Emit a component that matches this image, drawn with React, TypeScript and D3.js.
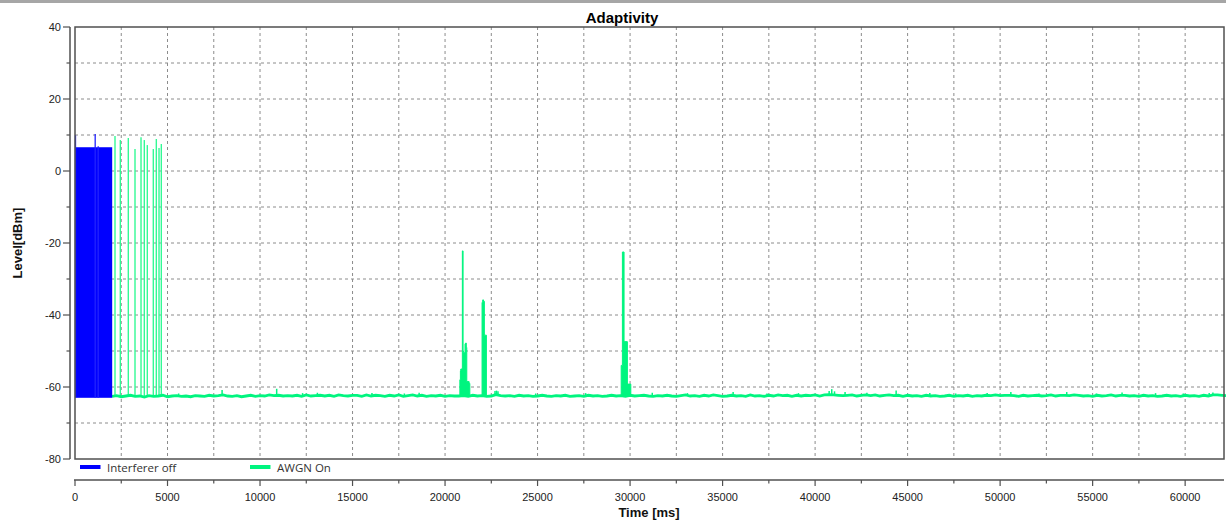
import React from "react";
import * as d3 from "d3";

// ---- data ----
const xMajorTicks = [0, 5000, 10000, 15000, 20000, 25000, 30000, 35000, 40000, 45000, 50000, 55000, 60000];
const yMajorTicks = [40, 20, 0, -20, -40, -60, -80];
const xDomain = [0, 62100];
const yDomain = [-80, 40];

// Interferer off: dense burst block + single spikes
const blueBlockStart = 20;
const blueBlockEnd = 2010;
const blueBlockTop = 6.6;
const blueFloor = -63;
const blueSpikeTimes = [0, 1064, 1227];
const blueSpikeLevels = [9.9, 10.3, 6.9];

// AWGN On: noise floor sampled every 250 ms from 2000 ms
const noiseStart = 2000;
const noiseStep = 250;
const noiseFloor = [
  -62.6, -62.4, -62.7, -62.5, -62.3, -62.6, -62.5, -62.8, -62.4, -62.6, -62.5, -62.3, -62.7, -62.5, -62.4, -62.6, -62.5, -62.7, -62.4, -62.5,
  -62.6, -62.3, -62.5, -62.4, -62.2, -62.5, -62.6, -62.4, -62.7, -62.5, -62.3, -62.6, -62.4, -62.5, -62.2, -62.4, -62.3, -62.5, -62.4, -62.5,
  -62.3, -62.6, -62.2, -62.5, -62.4, -62.3, -62.5, -62.3, -62.6, -62.2, -62.4, -62.5, -62.3, -62.3, -62.6, -62.2, -62.5, -62.3, -62.4, -62.6,
  -62.3, -62.5, -62.2, -62.6, -62.4, -62.2, -62.5, -62.3, -62.6, -62.4, -62.5, -62.3, -62.6, -62.4, -62.5, -62.5, -62.4, -62.6, -62.3, -62.5,
  -62.4, -62.6, -62.5, -62.1, -62.4, -62.5, -62.4, -62.6, -62.3, -62.5, -62.4, -62.6, -62.5, -62.3, -62.5, -62.6, -62.4, -62.5, -62.3, -62.6,
  -62.5, -62.4, -62.6, -62.3, -62.5, -62.4, -62.6, -62.5, -62.3, -62.5, -62.4, -62.6, -62.3, -62.5, -62.4, -62.3, -62.5, -62.6, -62.4, -62.5,
  -62.3, -62.5, -62.6, -62.4, -62.2, -62.5, -62.4, -62.6, -62.3, -62.5, -62.2, -62.4, -62.6, -62.5, -62.3, -62.5, -62.4, -62.6, -62.2, -62.5,
  -62.4, -62.6, -62.3, -62.5, -62.2, -62.4, -62.3, -62.6, -62.3, -62.5, -62.3, -62.4, -62.2, -62.5, -62.2, -62.1, -62.2, -62.3, -62.4, -62.3,
  -62.2, -62.5, -62.3, -62.2, -62.4, -62.2, -62.5, -62.3, -62.2, -62.4, -62.3, -62.6, -62.3, -62.5, -62.4, -62.6, -62.3, -62.5, -62.4, -62.6,
  -62.5, -62.3, -62.6, -62.4, -62.5, -62.3, -62.6, -62.4, -62.5, -62.3, -62.4, -62.2, -62.4, -62.3, -62.3, -62.4, -62.6, -62.3, -62.5, -62.4,
  -62.3, -62.5, -62.4, -62.2, -62.5, -62.3, -62.3, -62.4, -62.2, -62.3, -62.5, -62.4, -62.6, -62.3, -62.5, -62.4, -62.2, -62.5, -62.3, -62.3,
  -62.5, -62.4, -62.6, -62.3, -62.5, -62.4, -62.6, -62.5, -62.3, -62.5, -62.4, -62.6, -62.3, -62.5, -62.4, -62.6, -62.3, -62.5, -62.2, -62.2,
  -62.3, -62.4,
];
// short noise spikes on top of the floor
const noiseSpikeTimes = [
  5600, 7950, 10900, 12300, 13100, 16050, 17800, 18600, 22700, 22780, 22860, 24900, 27600, 31200, 33100, 35570, 37400, 39100,
  40760, 40900, 41050, 41620, 42800, 44380, 46200, 47600, 49300, 50580, 52100, 53600, 55200, 56590, 58400, 59900, 61300, 61500,
];
const noiseSpikeLevels = [
  -61.8, -60.8, -60.5, -61.7, -61.6, -61.7, -61.8, -61.6, -61.1, -61.0, -61.2, -61.8, -61.7, -61.6, -61.7, -61.4, -61.8, -61.7,
  -61.1, -60.6, -61.2, -61.4, -61.6, -61.0, -61.7, -61.8, -61.7, -61.4, -61.8, -61.4, -61.8, -61.5, -61.7, -61.8, -61.7, -61.5,
];
const greenSpikeTimes = [2162, 2449, 2881, 3243, 3568, 3746, 3908, 4232, 4395, 4541, 4665];
const greenSpikeLevels = [9.7, 8.6, 9.2, 6.1, 9.4, 8.6, 7.2, 6.1, 8.9, 6.4, 7.5];
const burst1Times = [20800, 20830, 20850, 20935, 20975, 20995, 21080, 21110, 21150, 21175, 21300, 21340];
const burst1Levels = [-58, -55.5, -55, -22.2, -50, -50.5, -48, -47.8, -49, -58.5, -59, -62.5];
const burst2Times = [22000, 22035, 22080, 22125, 22235];
const burst2Levels = [-36.5, -35.8, -36.2, -45.6, -62.5];
const burst3Times = [29520, 29585, 29675, 29855, 30040];
const burst3Levels = [-54, -22.5, -47.4, -59.2, -62.5];
const burstBase = -62.5;

const seriesNames = ["Interferer off", "AWGN On"];
const seriesColors = ["#0000ff", "#00f57f"];

const W = 1226;
const H = 528;
const plotL = 75, plotR = 1224, plotT = 27, plotB = 459;

export default function App() {
  const x = d3.scaleLinear().domain(xDomain).range([plotL, plotR]);
  const y = d3.scaleLinear().domain(yDomain).range([plotB, plotT]);

  const xMinor = xMajorTicks.map((t) => t + 2500).filter((t) => t < xDomain[1]);
  const vGrid = d3.range(2500, xDomain[1], 2500);
  const hGrid = d3.range(-70, 40, 10);
  const yMinor = d3.range(-70, 40, 20);

  const noisePts: [number, number][] = noiseFloor.map((v, i) => [noiseStart + i * noiseStep, v]);
  noisePts.push([xDomain[1], noiseFloor[noiseFloor.length - 1]]);
  const noiseLine = d3
    .line<[number, number]>()
    .x((d) => x(d[0]))
    .y((d) => y(d[1]))(noisePts);

  const burstArea = d3
    .area<[number, number]>()
    .x((d) => x(d[0]))
    .y0(y(burstBase))
    .y1((d) => y(d[1]))
    .curve(d3.curveStepAfter);
  const bursts = [
    [burst1Times, burst1Levels],
    [burst2Times, burst2Levels],
    [burst3Times, burst3Levels],
  ].map(([ts, vs]) => burstArea(ts.map((t, i) => [t, vs[i]] as [number, number])));

  const font = "'Liberation Sans', Arial, sans-serif";
  const axisColor = "#505050";
  const gridColor = "#8c8c8c";

  return (
    <svg width={W} height={H} style={{ position: "absolute", left: 0, top: 0, background: "#fff" }}>
      <style>{`body{margin:0}`}</style>
      <rect x={0} y={0} width={W} height={3} fill="#a6a6a6" />
      <text x={622} y={23} textAnchor="middle" fontFamily={font} fontWeight="bold" fontSize={15} fill="#000">
        Adaptivity
      </text>

      {/* grid */}
      {vGrid.map((t) => (
        <line key={"vg" + t} x1={x(t)} x2={x(t)} y1={plotT} y2={plotB} stroke={gridColor} strokeDasharray="3,3" strokeWidth={1} />
      ))}
      {hGrid.map((v) => (
        <line key={"hg" + v} x1={plotL} x2={plotR} y1={y(v)} y2={y(v)} stroke={gridColor} strokeDasharray="3,3" strokeWidth={1} />
      ))}

      {/* AWGN On */}
      {greenSpikeTimes.map((t, i) => (
        <line key={"gs" + i} x1={x(t)} x2={x(t)} y1={y(burstBase)} y2={y(greenSpikeLevels[i])} stroke="#33f995" strokeWidth={1.4} />
      ))}
      {bursts.map((d, i) => (
        <path key={"b" + i} d={d || ""} fill={seriesColors[1]} stroke={seriesColors[1]} strokeWidth={1} />
      ))}
      {noiseSpikeTimes.map((t, i) => (
        <line key={"ns" + i} x1={x(t)} x2={x(t)} y1={y(burstBase)} y2={y(noiseSpikeLevels[i])} stroke={seriesColors[1]} strokeWidth={1.5} />
      ))}
      <path d={noiseLine || ""} fill="none" stroke={seriesColors[1]} strokeWidth={2.8} />

      {/* Interferer off */}
      <rect
        x={x(blueBlockStart)}
        y={y(blueBlockTop)}
        width={x(blueBlockEnd) - x(blueBlockStart)}
        height={y(blueFloor) - y(blueBlockTop)}
        fill={seriesColors[0]}
      />
      {blueSpikeTimes.map((t, i) => (
        <line key={"bs" + i} x1={x(t) + 0.5} x2={x(t) + 0.5} y1={y(blueFloor)} y2={y(blueSpikeLevels[i])} stroke="#2222ff" strokeWidth={1.3} />
      ))}

      {/* frame */}
      <rect x={plotL} y={plotT} width={plotR - plotL} height={plotB - plotT} fill="none" stroke={axisColor} strokeWidth={1.5} />

      {/* y axis */}
      <line x1={70} x2={70} y1={plotT} y2={plotB} stroke={axisColor} strokeWidth={1.5} />
      {yMajorTicks.map((v) => (
        <g key={"yt" + v}>
          <line x1={63} x2={70} y1={y(v)} y2={y(v)} stroke={axisColor} strokeWidth={1.2} />
          <text x={61} y={y(v) + 4} textAnchor="end" fontFamily={font} fontSize={11} fill="#222">
            {v}
          </text>
        </g>
      ))}
      {yMinor.map((v) => (
        <line key={"ym" + v} x1={66.5} x2={70} y1={y(v)} y2={y(v)} stroke={axisColor} strokeWidth={1.2} />
      ))}
      <text
        transform={`translate(21.5,243) rotate(-90)`}
        textAnchor="middle"
        fontFamily={font}
        fontWeight="bold"
        fontSize={13}
        fill="#111"
      >
        Level[dBm]
      </text>

      {/* x axis */}
      <line x1={plotL - 1} x2={plotR} y1={480} y2={480} stroke={axisColor} strokeWidth={1.5} />
      {xMajorTicks.map((t) => (
        <g key={"xt" + t}>
          <line x1={x(t)} x2={x(t)} y1={480} y2={486} stroke={axisColor} strokeWidth={1.2} />
          <text x={x(t)} y={501} textAnchor="middle" fontFamily={font} fontSize={11} fill="#222">
            {t}
          </text>
        </g>
      ))}
      {xMinor.map((t) => (
        <line key={"xm" + t} x1={x(t)} x2={x(t)} y1={480} y2={483.5} stroke={axisColor} strokeWidth={1.2} />
      ))}
      <text x={649} y={517} textAnchor="middle" fontFamily={font} fontWeight="bold" fontSize={13} fill="#111">
        Time [ms]
      </text>

      {/* legend */}
      {seriesNames.map((name, i) => (
        <g key={"lg" + i} transform={`translate(${80 + i * 170},0)`}>
          <rect x={0} y={465} width={20.5} height={4} fill={seriesColors[i]} />
          <text x={27} y={471.5} fontFamily="'Open Sans', 'Noto Sans', sans-serif" fontSize={11.5} fill="#333">
            {name}
          </text>
        </g>
      ))}
    </svg>
  );
}
